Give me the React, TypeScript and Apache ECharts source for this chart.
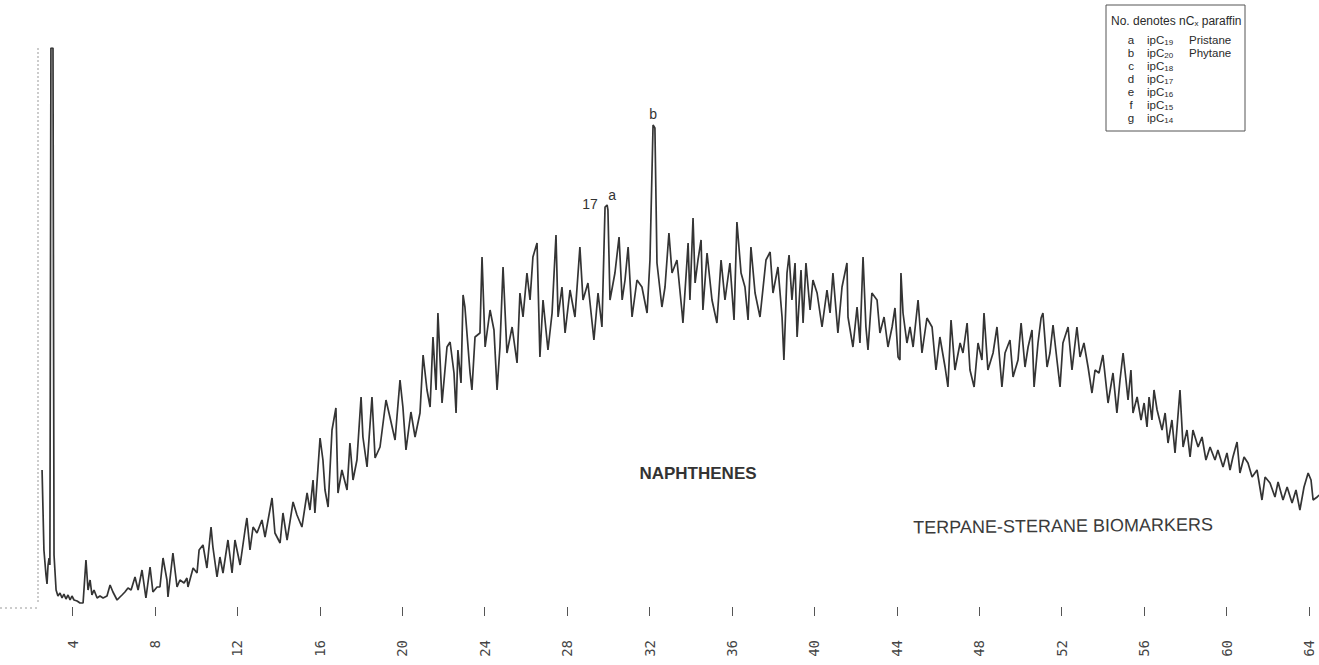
import React, { useEffect, useRef } from "react";
import * as echarts from "echarts";

const TIME_MIN = [
  2.52, 2.61, 2.71, 2.76, 2.81, 2.86, 2.9, 2.95, 3.05, 3.1, 3.2, 3.29, 3.39, 3.49, 3.58, 3.68, 3.78, 3.88, 3.97, 4.07,
  4.22, 4.36, 4.51, 4.65, 4.75, 4.85, 4.94, 5.04, 5.19, 5.33, 5.48, 5.67, 5.82, 5.96, 6.16, 6.3, 6.4, 6.54, 6.69, 6.84,
  7.03, 7.18, 7.37, 7.56, 7.76, 7.9, 8.1, 8.24, 8.39, 8.58, 8.63, 8.87, 9.07, 9.21, 9.41, 9.55, 9.6, 9.85, 10.04, 10.14,
  10.33, 10.52, 10.72, 10.81, 11.01, 11.15, 11.3, 11.54, 11.74, 11.88, 12.13, 12.37, 12.46, 12.61, 12.76,
  12.95, 13.19, 13.34, 13.68, 13.82, 14.07, 14.21, 14.41, 14.7, 14.89, 15.13, 15.38, 15.52, 15.67, 15.76, 16.01, 16.15,
  16.25, 16.4, 16.59, 16.78, 16.88, 17.07, 17.32, 17.46, 17.61, 17.8, 18.0, 18.09, 18.29, 18.53, 18.68, 18.92, 19.21,
  19.4, 19.65, 19.89, 20.03, 20.18, 20.42, 20.62, 20.86, 21.01, 21.2, 21.35, 21.49, 21.64, 21.73, 21.93, 22.17, 22.32,
  22.51, 22.61, 22.7, 22.85, 22.95, 23.04, 23.29,
  23.38, 23.53, 23.77, 23.87, 24.02, 24.26, 24.45, 24.6, 24.74, 24.89, 25.08, 25.33, 25.57, 25.71, 25.86, 26.05, 26.2,
  26.34, 26.54, 26.68, 26.83, 27.07, 27.27, 27.46, 27.56, 27.75, 27.9, 28.14, 28.38, 28.62, 28.77, 29.01, 29.3, 29.5,
  29.69, 29.84, 29.94, 29.98, 30.08, 30.32, 30.52, 30.67, 30.81, 30.96, 31.15, 31.39, 31.63, 31.88, 32.02, 32.17, 32.26,
  32.36, 32.6, 32.75, 32.94, 33.09, 33.33, 33.58,
  33.62, 33.82, 33.87, 33.96, 34.11, 34.21, 34.35, 34.5, 34.59, 34.79, 35.03, 35.27, 35.47, 35.66, 35.9, 36.1, 36.24,
  36.44, 36.63, 36.78, 36.92, 37.12, 37.36, 37.65, 37.85, 37.99, 38.23, 38.43, 38.52, 38.67, 38.77, 38.91, 39.06, 39.16,
  39.35, 39.45, 39.59, 39.79, 39.93, 40.13, 40.37, 40.61, 40.76, 40.9, 41.14, 41.34, 41.58, 41.63, 41.87, 42.07, 42.21,
  42.36, 42.5, 42.6, 42.79, 43.04, 43.18, 43.38, 43.57, 43.77, 43.91, 44.06,
  44.15, 44.2, 44.3, 44.49, 44.64, 44.79, 45.03, 45.22, 45.46, 45.71, 45.9, 46.09, 46.34, 46.48, 46.63, 46.82, 47.07,
  47.21, 47.41, 47.55, 47.75, 47.94, 48.13, 48.23, 48.42, 48.67, 48.86, 49.1, 49.25, 49.49, 49.64, 49.88, 50.03, 50.22,
  50.37, 50.56, 50.66, 50.85, 51.0, 51.09, 51.29, 51.43, 51.58, 51.77, 51.92, 52.06, 52.31, 52.5, 52.74, 52.89, 53.08,
  53.28, 53.47, 53.62, 53.81,
  54.0, 54.25, 54.49, 54.68, 54.83, 54.98, 55.12, 55.22, 55.36, 55.46, 55.66, 55.85, 56.0, 56.14, 56.24, 56.38, 56.48,
  56.63, 56.87, 57.02, 57.16, 57.35, 57.5, 57.6, 57.74, 57.89, 58.08, 58.23, 58.37, 58.62, 58.81, 59.0, 59.2, 59.44,
  59.58, 59.83, 60.02, 60.17, 60.31, 60.51, 60.65, 60.85, 61.04, 61.24, 61.48, 61.72, 61.87, 62.11, 62.35, 62.5, 62.74,
  62.94, 63.18, 63.37, 63.56, 63.76, 63.96, 64.1, 64.2, 64.4, 64.49,
];

// Detector response at each of those times (arbitrary units, off-scale solvent peak = 559)
const SIGNAL = [
  137, 57, 32, 23, 42, 49, 42, 559, 559, 52, 17, 11, 14, 9, 13, 8, 12, 7, 11, 7,
  6, 4, 4, 47, 17, 27, 12, 17, 9, 11, 9, 11, 22, 15, 7, 10, 12, 15, 19, 17,
  30, 17, 37, 9, 40, 15, 20, 20, 49, 27, 10, 54, 20, 27, 24, 29, 20, 39, 34, 57,
  62, 39, 80, 60, 30, 50, 34, 67, 34, 67, 42, 77, 89, 57, 80,
  74, 87, 70, 109, 74, 64, 94, 67, 105, 92, 80, 114, 97, 127, 94, 169, 147,
  117, 100, 177, 199, 114, 137, 117, 164, 127, 147, 210, 170, 140, 210, 149, 160, 207,
  190, 167, 227, 200, 157, 195, 170, 194, 252, 217, 200, 270, 217, 294, 204, 260, 265,
  234, 194, 257, 224, 312, 300, 234,
  217, 270, 274, 350, 260, 297, 277, 217, 260, 340, 254, 280, 244, 314, 290, 334, 307,
  350, 364, 250, 307, 257, 294, 372, 290, 320, 274, 317, 290, 360, 307, 324, 267, 314,
  280, 400, 402, 397, 307, 334, 370, 307, 327, 360, 290, 327, 320, 294, 347, 482, 479,
  344, 300, 320, 374, 334, 347, 294,
  284, 347, 364, 307, 389, 324, 347, 367, 297, 354, 307, 284, 347, 307, 344, 287, 385,
  334, 320, 287, 360, 314, 290, 347, 355, 314, 340, 290, 247, 334, 352, 307, 344, 270,
  337, 284, 344, 297, 327, 314, 280, 317, 294, 334, 274, 320, 344, 290, 260, 300, 264,
  350, 280, 257, 314, 307, 274, 290, 260, 280, 299, 250,
  247, 334, 294, 264, 280, 260, 307, 254, 289, 280, 237, 270, 240, 220, 287, 237, 264,
  254, 284, 237, 220, 264, 247, 294, 237, 254, 280, 220, 254, 267, 230, 247, 284, 240,
  260, 277, 220, 264, 289, 294, 240, 254, 282, 247, 220, 264, 280, 237, 280, 250, 264,
  240, 214, 237, 234,
  252, 204, 234, 194, 227, 254, 227, 207, 237, 194, 210, 187, 204, 180, 210, 187, 217,
  197, 177, 194, 164, 187, 154, 180, 217, 160, 177, 150, 177, 160, 170, 147, 160, 147,
  157, 140, 154, 137, 150, 165, 134, 150, 144, 130, 137, 107, 130, 124, 110, 125, 107,
  120, 104, 117, 97, 120, 134, 127, 107, 110, 112,
];

const TICKS = [4, 8, 12, 16, 20, 24, 28, 32, 36, 40, 44, 48, 52, 56, 60, 64];

// Legend rows: peak letter, isoprenoid carbon number, common name
const LEGEND_LETTERS = ["a", "b", "c", "d", "e", "f", "g"];
const LEGEND_CARBONS = ["19", "20", "18", "17", "16", "15", "14"];
const LEGEND_NAMES = ["Pristane", "Phytane", "", "", "", "", ""];

// Labelled peaks: [time, response, label, dx, dy]
const PEAK_LABELS: [number, number, string, number, number][] = [
  [32.17, 482, "b", 0, -11],
  [29.94, 402, "a", 5, -10],
  [29.94, 402, "17", -17, -1],
];

const FONT = "'Liberation Sans', Arial, sans-serif";
const INK = "#343434";

export default function App() {
  const ref = useRef<HTMLDivElement>(null);

  useEffect(() => {
    const chart = echarts.init(ref.current!, null, { renderer: "svg" });
    const data = TIME_MIN.map((t, i) => [t, SIGNAL[i]]);

    const legendMain = { fontSize: 11.5, fontFamily: FONT, fill: "#2a2a2a", lineHeight: 12 };
    const legendSub = { fontSize: 8, fontFamily: FONT, fill: "#2a2a2a", lineHeight: 6, verticalAlign: "bottom" };
    const titleMain = { fontSize: 12, fontFamily: FONT, fill: "#2a2a2a", lineHeight: 12 };

    const legendRows: any[] = [];
    LEGEND_LETTERS.forEach((l, i) => {
      const y = 40 + i * 13;
      legendRows.push({
        type: "text",
        x: 1131,
        y,
        style: { text: l, fontSize: 11.5, fontFamily: FONT, fill: "#2a2a2a", align: "center", verticalAlign: "middle" },
      });
      legendRows.push({
        type: "text",
        x: 1147,
        y,
        style: {
          text: `{m|ipC}{s|${LEGEND_CARBONS[i]}}`,
          align: "left",
          verticalAlign: "middle",
          rich: { m: legendMain, s: legendSub },
        },
      });
      if (LEGEND_NAMES[i]) {
        legendRows.push({
          type: "text",
          x: 1189,
          y,
          style: { text: LEGEND_NAMES[i], fontSize: 11.5, fontFamily: FONT, fill: "#2a2a2a", align: "left", verticalAlign: "middle" },
        });
      }
    });

    chart.setOption({
      animation: false,
      backgroundColor: "#ffffff",
      grid: { left: 40, right: 0, top: 48, bottom: 58, containLabel: false },
      xAxis: {
        type: "value",
        min: 2.4195,
        max: 64.4869,
        offset: 3,
        axisLine: { show: false },
        splitLine: { show: false },
        axisTick: { show: true, customValues: TICKS, length: 9, lineStyle: { color: "#555", width: 1 } },
        axisLabel: {
          customValues: TICKS,
          rotate: 90,
          margin: 30,
          fontFamily: "'DejaVu Sans Mono', monospace",
          fontSize: 14,
          color: "#444",
        },
      },
      yAxis: { type: "value", min: 0, max: 559, show: false },
      series: [
        {
          type: "line",
          data,
          showSymbol: false,
          symbol: "none",
          clip: true,
          lineStyle: { color: INK, width: 1.7 },
          markPoint: {
            symbol: "rect",
            symbolSize: 1,
            itemStyle: { color: "rgba(0,0,0,0)" },
            label: { show: true, fontFamily: FONT, fontSize: 14, color: "#333", position: "inside" },
            data: PEAK_LABELS.map(([t, v, text, dx, dy]) => ({
              coord: [t, v],
              label: { formatter: text, offset: [dx, dy] },
            })),
          },
        },
      ],
      graphic: [
        { type: "line", shape: { x1: 38, y1: 48, x2: 38, y2: 604 }, style: { stroke: "#999", lineWidth: 1, lineDash: [2, 2] } },
        { type: "line", shape: { x1: 0, y1: 608, x2: 38, y2: 608 }, style: { stroke: "#999", lineWidth: 1, lineDash: [2, 3] } },
        {
          type: "rect",
          shape: { x: 1106, y: 5, width: 139, height: 126 },
          style: { fill: "none", stroke: "#555", lineWidth: 1 },
        },
        {
          type: "text",
          x: 1111,
          y: 21,
          style: {
            text: "{m|No. denotes nC}{s|x}{m| paraffin}",
            align: "left",
            verticalAlign: "middle",
            rich: { m: titleMain, s: legendSub },
          },
        },
        ...legendRows,
        {
          type: "text",
          x: 698,
          y: 473,
          style: { text: "NAPHTHENES", fontSize: 17, fontWeight: "bold", fontFamily: FONT, fill: "#333", align: "center", verticalAlign: "middle" },
        },
        {
          type: "text",
          x: 1063,
          y: 526,
          rotation: 0.01,
          style: { text: "TERPANE-STERANE BIOMARKERS", fontSize: 18, fontFamily: FONT, fill: "#3a3a3a", align: "center", verticalAlign: "middle" },
        },
      ],
    });

    return () => chart.dispose();
  }, []);

  return (
    <div
      ref={ref}
      style={{ position: "fixed", left: 0, top: 0, width: 1319, height: 665, background: "#ffffff" }}
    />
  );
}
